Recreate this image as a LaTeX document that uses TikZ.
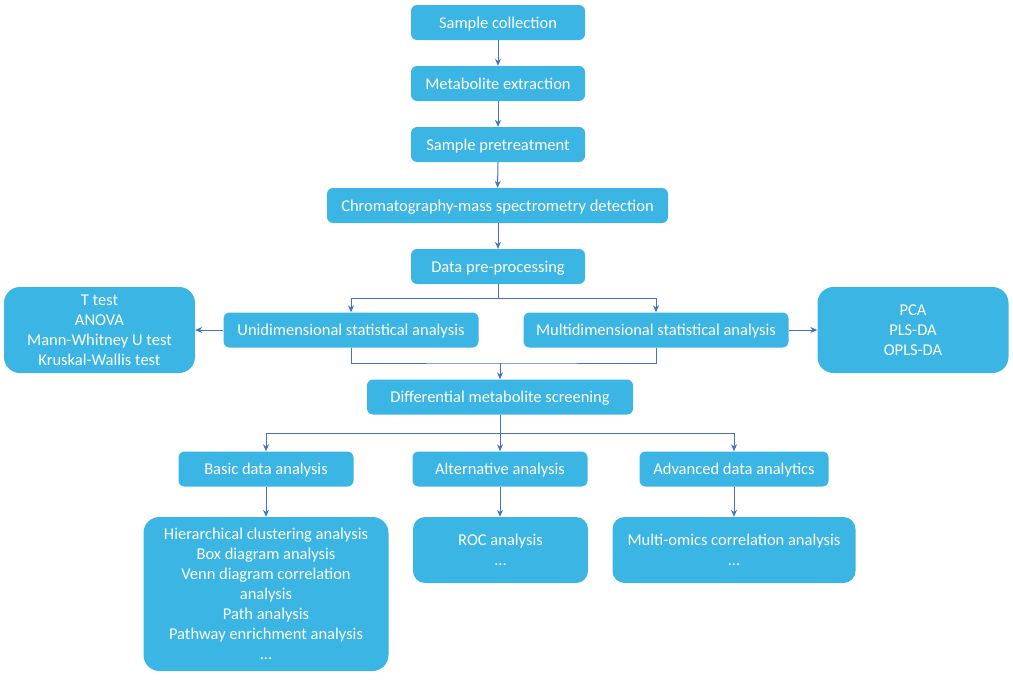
\documentclass[tikz,border=0pt]{standalone}
\usepackage{fontspec}
\setmainfont{Carlito}
\usetikzlibrary{arrows.meta}
\definecolor{boxblue}{HTML}{3BB5E3}
\definecolor{linkblue}{HTML}{4472C4}
\tikzset{
  stepbox/.style={fill=boxblue, draw=none, rounded corners=6pt, text=white, align=center, inner sep=0pt,
    text depth=0pt, font=\fontsize{16.5}{20}\selectfont},
  bigbox/.style={stepbox, rounded corners=16pt},
  link/.style={draw=linkblue, line width=1pt, -{Stealth[length=7pt,width=6pt]}},
  plainlink/.style={draw=linkblue, line width=1pt}
}
\begin{document}
\begin{tikzpicture}[x=1pt,y=-1pt]
\useasboundingbox (0,0) rectangle (1013,680);
\node[stepbox, minimum width=174pt, minimum height=35pt] (sc) at (498,22.5) {Sample collection};
\node[stepbox, minimum width=174pt, minimum height=35pt] (me) at (498,83.5) {Metabolite extraction};
\node[stepbox, minimum width=174pt, minimum height=35pt] (sp) at (498,144.5) {Sample pretreatment};
\node[stepbox, minimum width=341pt, minimum height=35pt] (cm) at (497.5,205.5) {Chromatography-mass spectrometry detection};
\node[stepbox, minimum width=174pt, minimum height=35pt] (dp) at (498,266.5) {Data pre-processing};
\node[stepbox, minimum width=255pt, minimum height=35pt] (uni) at (351,330) {Unidimensional statistical analysis};
\node[stepbox, minimum width=265pt, minimum height=35pt] (multi) at (656,330) {Multidimensional statistical analysis};
\node[bigbox, minimum width=191pt, minimum height=86pt] (tests) at (99.5,330) {T test\\ANOVA\\Mann-Whitney U test\\Kruskal-Wallis test};
\node[bigbox, minimum width=191pt, minimum height=86pt] (pca) at (913,330) {PCA\\PLS-DA\\OPLS-DA};
\node[stepbox, minimum width=266pt, minimum height=35pt] (dm) at (500,397) {Differential metabolite screening};
\node[stepbox, minimum width=175pt, minimum height=35pt] (basic) at (266,469) {Basic data analysis};
\node[stepbox, minimum width=175pt, minimum height=35pt] (alt) at (500,469) {Alternative analysis};
\node[stepbox, minimum width=189pt, minimum height=35pt] (adv) at (734,469) {Advanced data analytics};
\node[bigbox, minimum width=245pt, minimum height=154pt] (bl) at (266,594) {Hierarchical clustering analysis\\Box diagram analysis\\Venn diagram correlation\\analysis\\Path analysis\\Pathway enrichment analysis\\...};
\node[bigbox, rounded corners=12pt, minimum width=175pt, minimum height=66pt] (roc) at (500.5,550) {ROC analysis\\...};
\node[bigbox, rounded corners=12pt, minimum width=243pt, minimum height=66pt] (omics) at (734,550) {Multi-omics correlation analysis\\...};
\coordinate (j1) at (498,298);
\coordinate (j2) at (500,363);
\coordinate (j3) at (500,433);
\draw[link] (sc) -- (me);
\draw[link] (me) -- (sp);
\draw[link] (sp) -- (cm);
\draw[link] (cm.south -| dp) -- (dp);
\draw[plainlink] (dp) -- (j1);
\draw[link] (j1) -| (uni);
\draw[link] (j1) -| (multi);
\draw[plainlink] (uni.south) |- (j2) -| (multi.south);
\draw[link] (j2) -- (dm);
\draw[link] (uni) -- (tests);
\draw[link] (multi) -- (pca);
\draw[plainlink] (dm) -- (j3);
\draw[link] (j3) -| (basic);
\draw[link] (j3) -- (alt);
\draw[link] (j3) -| (adv);
\draw[link] (basic) -- (bl);
\draw[link] (alt) -- (alt.south |- roc.north);
\draw[link] (adv) -- (omics);
\end{tikzpicture}
\end{document}
